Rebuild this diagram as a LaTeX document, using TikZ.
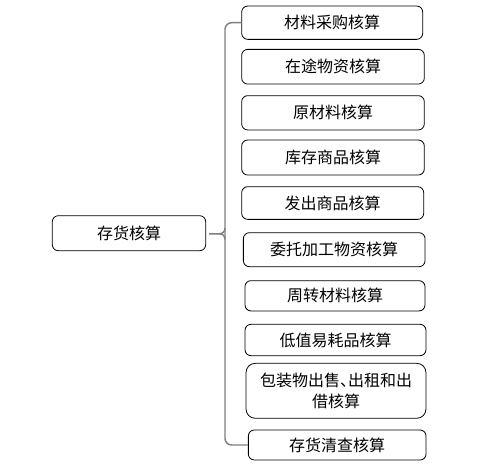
\documentclass[tikz,border=0pt]{standalone}
\usepackage{fontspec}
\setmainfont{Noto Sans CJK SC}
\definecolor{bracegray}{RGB}{128,128,128}
\tikzset{
  leaf/.style 2 args={draw, rounded corners=4.5pt, line width=0.6pt, inner sep=0pt,
    align=center, font=\fontsize{12pt}{16.3pt}\selectfont,
    minimum width=#1*0.75pt, minimum height=#2*0.75pt},
  brace/.style={draw=bracegray, line width=1.1pt}
}
\begin{document}
\begin{tikzpicture}[x=0.75pt, y=-0.75pt]
    \useasboundingbox (0,0) rectangle (490,465);
    % Root and items
    \node [leaf={153.4}{35}] (root) at (129,233.2) {存货核算};
    \node [leaf={181}{33.3}] (b1) at (332.2,22.7) {材料采购核算};
    \node [leaf={182.6}{34.7}] (b2) at (333,66.7) {在途物资核算};
    \node [leaf={182.6}{34.3}] (b3) at (333,112.8) {原材料核算};
    \node [leaf={182.6}{35}] (b4) at (333,157.5) {库存商品核算};
    \node [leaf={182}{32.7}] (b5) at (332.7,203) {发出商品核算};
    \node [leaf={181.7}{34}] (b6) at (334.2,249.7) {委托加工物资核算};
    \node [leaf={180}{30.3}] (b7) at (335,295.8) {周转材料核算};
    \node [leaf={181}{31.4}] (b8) at (335.5,340) {低值易耗品核算};
    \node [leaf={180}{55}, rounded corners=7pt] (b9) at (336,390.8) {包装物出售、\kern-0.5em出租和出\\借核算};
    \node [leaf={177.7}{30}] (b10) at (337.2,445) {存货清查核算};
    % Draw brace
    \coordinate (bt) at (225,22.7);
    \coordinate (bb) at (225,445);
    \coordinate (tip) at (209,233.8);
    \draw [brace, rounded corners=5pt] (b1.west) -- (bt) -- (bb) -- (b10.west);
    \draw [brace] (tip) -- (219,233.8) .. controls (223,233.8) and (225,231.5) .. (225,228);
    \draw [brace] (219,233.8) .. controls (223,233.8) and (225,236) .. (225,239.5);
\end{tikzpicture}
\end{document}
